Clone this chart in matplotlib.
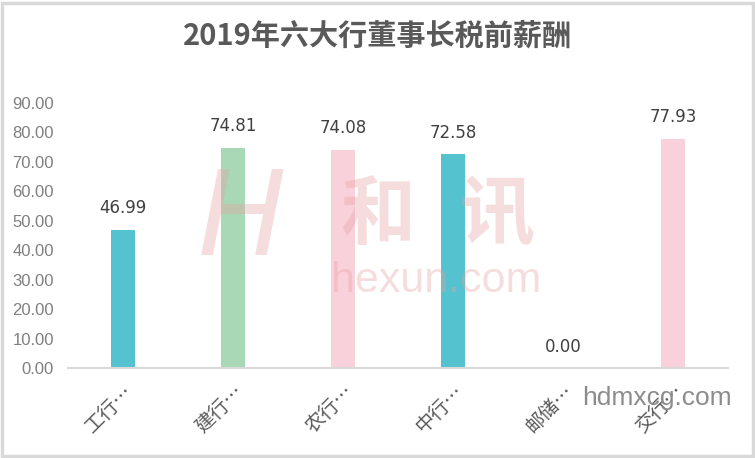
import matplotlib
matplotlib.use("Agg")
import matplotlib.pyplot as plt
from matplotlib.patches import Rectangle
from matplotlib.transforms import ScaledTranslation

plt.rcParams['font.family'] = ['Noto Sans CJK SC', 'DejaVu Sans']

categories = ["工行…", "建行…", "农行…", "中行…", "邮储…", "交行…"]
values = [46.99, 74.81, 74.08, 72.58, 0.00, 77.93]
colors = ["#55C3CF", "#A8D8B5", "#F9D1DB", "#55C3CF", "#F9D1DB", "#F9D1DB"]
yticks = [0, 10, 20, 30, 40, 50, 60, 70, 80, 90]
title = "2019年六大行董事长税前薪酬"

W, H = 755, 458
fig = plt.figure(figsize=(W / 100, H / 100), dpi=100)
fig.patch.set_facecolor("white")
fig.add_artist(Rectangle((0.002, 0.004), 0.995, 0.99, transform=fig.transFigure,
                         fill=False, edgecolor="#D9D9D9", linewidth=2.5))

ax = fig.add_axes([68 / W, 1 - 368 / H, 660 / W, 265 / H])
x = list(range(len(categories)))
ax.bar(x, values, width=0.22, color=colors, zorder=2)
ax.set_xlim(-0.5, len(categories) - 0.5)
ax.set_ylim(0, 90)
ax.set_yticks(yticks)
ax.set_yticklabels([f"{v:.2f}" for v in yticks], color="#7F7F7F", fontsize=12,
                   family=['Liberation Sans'])
ax.set_xticks(x)
ax.set_xticklabels(categories, rotation=45, ha="right", rotation_mode="anchor",
                   color="#595959", fontsize=14)
offset = ScaledTranslation(14 / 100, 0, fig.dpi_scale_trans)
for lab in ax.get_xticklabels():
    lab.set_transform(lab.get_transform() + offset)
ax.tick_params(axis="both", length=0)
ax.tick_params(axis="y", pad=10)
ax.tick_params(axis="x", pad=9)
for s in ["top", "right", "left"]:
    ax.spines[s].set_visible(False)
ax.spines["bottom"].set_color("#D9D9D9")
ax.spines["bottom"].set_linewidth(1.5)

for xi, v in zip(x, values):
    ax.annotate(f"{v:.2f}", (xi, v), xytext=(0, 9), textcoords="offset points",
                ha="center", va="bottom", fontsize=12, color="#404040",
                family=['DejaVu Sans'])

fig.text(0.5, 1 - 36 / H, title, ha="center", va="center", fontsize=21,
         fontweight="bold", color="#595959")

# watermarks
wm = dict(color="#E8A0A0", alpha=0.35, zorder=5, ha="center", va="center")
fig.text(242 / W, 1 - 222 / H, "H", fontsize=85, fontstyle="italic",
         family=['DejaVu Sans'], **wm)
fig.text(378 / W, 1 - 216 / H, "和", fontsize=54, fontweight="bold", **wm)
fig.text(497 / W, 1 - 216 / H, "讯", fontsize=54, fontweight="bold", **wm)
fig.text(436 / W, 1 - 281 / H, "hexun.com", fontsize=31,
         family=['Liberation Sans'], **wm)
fig.text(657 / W, 1 - 398 / H, "hdmxcg.com", ha="center", va="center", fontsize=19,
         color="#8C8C8C", family=['Liberation Sans'], zorder=5)

fig.savefig("out.png", dpi=100, facecolor="white")
